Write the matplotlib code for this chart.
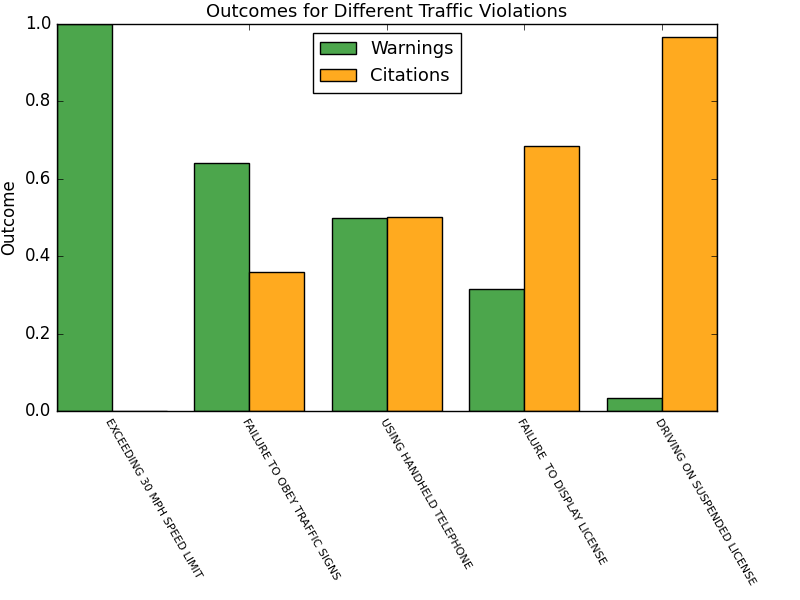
import numpy as np
import matplotlib
matplotlib.use("Agg")
import matplotlib.pyplot as plt

violations = [
    "EXCEEDING 30 MPH SPEED LIMIT",
    "FAILURE TO OBEY TRAFFIC SIGNS",
    "USING HANDHELD TELEPHONE",
    "FAILURE  TO DISPLAY LICENSE",
    "DRIVING ON SUSPENDED LICENSE",
]
warnings = [1.0, 0.642, 0.499, 0.316, 0.034]
citations = [0.001, 0.358, 0.502, 0.684, 0.966]

plt.style.use("classic")
fig, ax = plt.subplots(figsize=(8, 6), dpi=100)
fig.patch.set_facecolor("white")
fig.subplots_adjust(left=0.071, right=0.896, top=0.96, bottom=0.315)

x = np.arange(len(violations))
w = 0.4
ax.bar(x - w, warnings, w, align="edge", color="#4ca64c", edgecolor="black", label="Warnings")
ax.bar(x, citations, w, align="edge", color="#ffaa1f", edgecolor="black", label="Citations")

ax.set_xlim(-0.4, 4.4)
ax.set_ylim(0, 1.0)
ax.set_xticks(x)
ax.set_xticklabels(violations, rotation=-60, ha="left", va="top",
                   rotation_mode="anchor", fontsize=8)
ax.set_ylabel("Outcome")
ax.set_title("Outcomes for Different Traffic Violations", fontsize=13)
ax.legend(loc="upper center", fontsize=13)

fig.savefig("out.png", dpi=100, facecolor="white")
